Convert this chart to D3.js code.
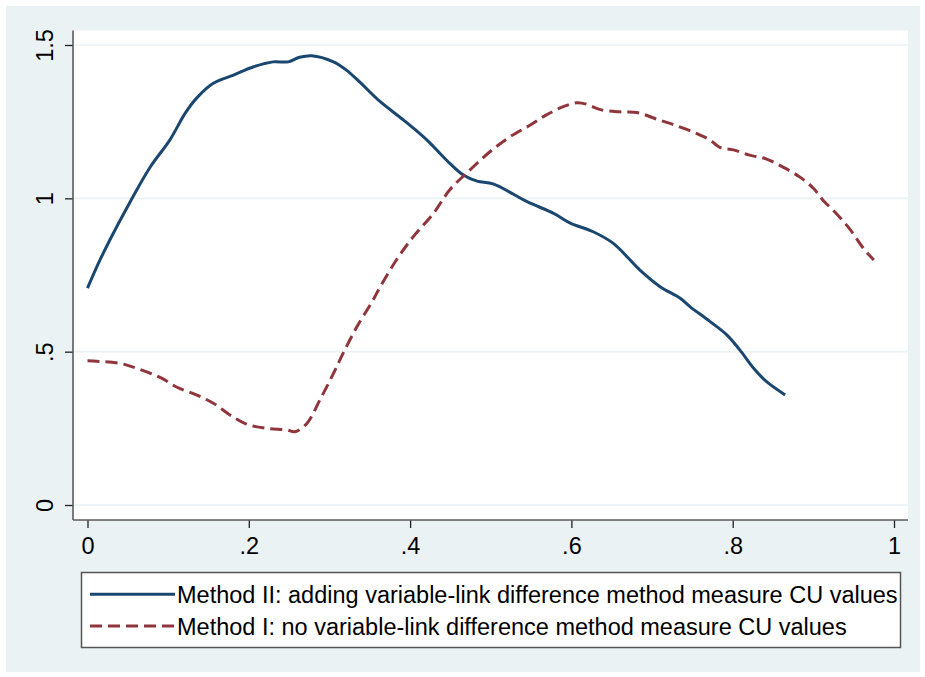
<!DOCTYPE html>
<html>
<head>
<meta charset="utf-8">
<script src="https://cdn.jsdelivr.net/npm/d3@7"></script>
<style>
  html, body { margin: 0; padding: 0; background: #ffffff; }
  svg { display: block; }
  text { font-family: "Liberation Sans", Arial, sans-serif; fill: #000; }
</style>
</head>
<body>
<svg id="chart" width="925" height="677"></svg>
<script>
// ---- data ----
const methodIIx = [0, 0.0155, 0.032, 0.053, 0.078, 0.102, 0.121, 0.135, 0.156, 0.181, 0.206, 0.230, 0.249, 0.263, 0.278, 0.305, 0.321, 0.338, 0.363, 0.392, 0.421, 0.445, 0.466, 0.483, 0.503, 0.545, 0.578, 0.598, 0.627, 0.652, 0.685, 0.710, 0.735, 0.747, 0.772, 0.793, 0.809, 0.826, 0.842, 0.865];
const methodIIy = [0.707, 0.799, 0.886, 0.989, 1.103, 1.190, 1.277, 1.326, 1.375, 1.402, 1.429, 1.445, 1.445, 1.460, 1.465, 1.445, 1.418, 1.378, 1.315, 1.255, 1.190, 1.125, 1.076, 1.056, 1.047, 0.989, 0.951, 0.920, 0.891, 0.853, 0.766, 0.712, 0.674, 0.647, 0.598, 0.554, 0.505, 0.446, 0.402, 0.359];

const methodIx = [0, 0.040, 0.065, 0.090, 0.111, 0.135, 0.156, 0.177, 0.197, 0.222, 0.247, 0.257, 0.272, 0.288, 0.305, 0.317, 0.334, 0.354, 0.363, 0.383, 0.404, 0.429, 0.449, 0.474, 0.499, 0.524, 0.549, 0.569, 0.590, 0.607, 0.619, 0.635, 0.660, 0.681, 0.706, 0.731, 0.755, 0.772, 0.784, 0.801, 0.821, 0.842, 0.863, 0.883, 0.900, 0.912, 0.929, 0.946, 0.962, 0.975];
const methodIy = [0.470, 0.462, 0.442, 0.416, 0.384, 0.359, 0.332, 0.293, 0.264, 0.250, 0.245, 0.239, 0.266, 0.342, 0.429, 0.495, 0.581, 0.668, 0.712, 0.799, 0.875, 0.951, 1.027, 1.092, 1.152, 1.201, 1.239, 1.272, 1.299, 1.312, 1.307, 1.290, 1.282, 1.280, 1.258, 1.236, 1.212, 1.190, 1.166, 1.158, 1.141, 1.128, 1.101, 1.070, 1.033, 0.994, 0.949, 0.897, 0.837, 0.799];

const xTickValues = [0, 0.2, 0.4, 0.6, 0.8, 1];
const xTickLabels = ["0", ".2", ".4", ".6", ".8", "1"];
const yTickValues = [0, 0.5, 1, 1.5];
const yTickLabels = ["0", ".5", "1", "1.5"];

const seriesNames = [
  "Method II: adding variable-link difference method measure CU values",
  "Method I: no variable-link difference method measure CU values"
];
const seriesColors = ["#1a476f", "#90353b"];
const seriesDash = [null, "12,6"];

// ---- layout ----
const svg = d3.select("#chart");
const plot = { left: 73, right: 908, top: 30.5, bottom: 520 };

svg.append("rect").attr("x", 6).attr("y", 6).attr("width", 914).attr("height", 666)
  .attr("fill", "#eaf2f3");
svg.append("rect").attr("x", plot.left).attr("y", plot.top)
  .attr("width", plot.right - plot.left).attr("height", plot.bottom - plot.top)
  .attr("fill", "#ffffff");

const x = d3.scaleLinear().domain([0, 1]).range([87.5, 894]);
const y = d3.scaleLinear().domain([0, 1.5]).range([505, 45]);

// gridlines
svg.append("g").selectAll("line").data(yTickValues).join("line")
  .attr("x1", plot.left).attr("x2", plot.right)
  .attr("y1", d => y(d)).attr("y2", d => y(d))
  .attr("stroke", "#eaf2f3").attr("stroke-width", 1.6);

// y axis
const yAxis = d3.axisLeft(y).tickValues(yTickValues)
  .tickFormat((d, i) => yTickLabels[i]).tickSize(8).tickSizeOuter(0);
const gy = svg.append("g").attr("transform", `translate(${plot.left},0)`).call(yAxis);
gy.select(".domain").remove();
gy.append("line").attr("x1", 0).attr("x2", 0).attr("y1", plot.top).attr("y2", plot.bottom)
  .attr("stroke", "#5a5a5a").attr("stroke-width", 1.6);
gy.selectAll(".tick line").attr("stroke", "#222").attr("stroke-width", 1.3);
gy.selectAll(".tick text")
  .attr("x", 0).attr("dy", null).attr("y", 0)
  .attr("transform", "translate(-20,0) rotate(-90)")
  .attr("text-anchor", "middle")
  .attr("font-size", 23.5)
  .style("font-family", '"Liberation Sans", Arial, sans-serif')
  .attr("fill", "#000");

// x axis
const xAxis = d3.axisBottom(x).tickValues(xTickValues)
  .tickFormat((d, i) => xTickLabels[i]).tickSize(8).tickSizeOuter(0);
const gx = svg.append("g").attr("transform", `translate(0,${plot.bottom})`).call(xAxis);
gx.select(".domain").remove();
gx.append("line").attr("x1", plot.left).attr("x2", plot.right).attr("y1", 0).attr("y2", 0)
  .attr("stroke", "#5a5a5a").attr("stroke-width", 1.6);
gx.selectAll(".tick line").attr("stroke", "#222").attr("stroke-width", 1.3);
gx.selectAll(".tick text")
  .attr("y", 34).attr("dy", null)
  .attr("font-size", 23.5)
  .style("font-family", '"Liberation Sans", Arial, sans-serif')
  .attr("fill", "#000");

// lines
const series = [
  methodIIx.map((v, i) => [v, methodIIy[i]]),
  methodIx.map((v, i) => [v, methodIy[i]])
];
const line = d3.line().x(d => x(d[0])).y(d => y(d[1])).curve(d3.curveCatmullRom.alpha(0.5));
series.forEach((s, i) => {
  svg.append("path").datum(s).attr("d", line)
    .attr("fill", "none").attr("stroke", seriesColors[i]).attr("stroke-width", 3)
    .attr("stroke-dasharray", seriesDash[i]).attr("stroke-linejoin", "round");
});

// legend
const lg = svg.append("g");
lg.append("rect").attr("x", 81.5).attr("y", 572.5).attr("width", 819).attr("height", 75)
  .attr("fill", "#ffffff").attr("stroke", "#555").attr("stroke-width", 1.5);
const rowY = [594.3, 626];
seriesNames.forEach((name, i) => {
  lg.append("line").attr("x1", 90).attr("x2", 175).attr("y1", rowY[i]).attr("y2", rowY[i])
    .attr("stroke", seriesColors[i]).attr("stroke-width", 3)
    .attr("stroke-dasharray", seriesDash[i]);
  lg.append("text").attr("x", 177).attr("y", rowY[i] + 8.5)
    .attr("font-size", 23.5).text(name);
});
</script>
</body>
</html>
